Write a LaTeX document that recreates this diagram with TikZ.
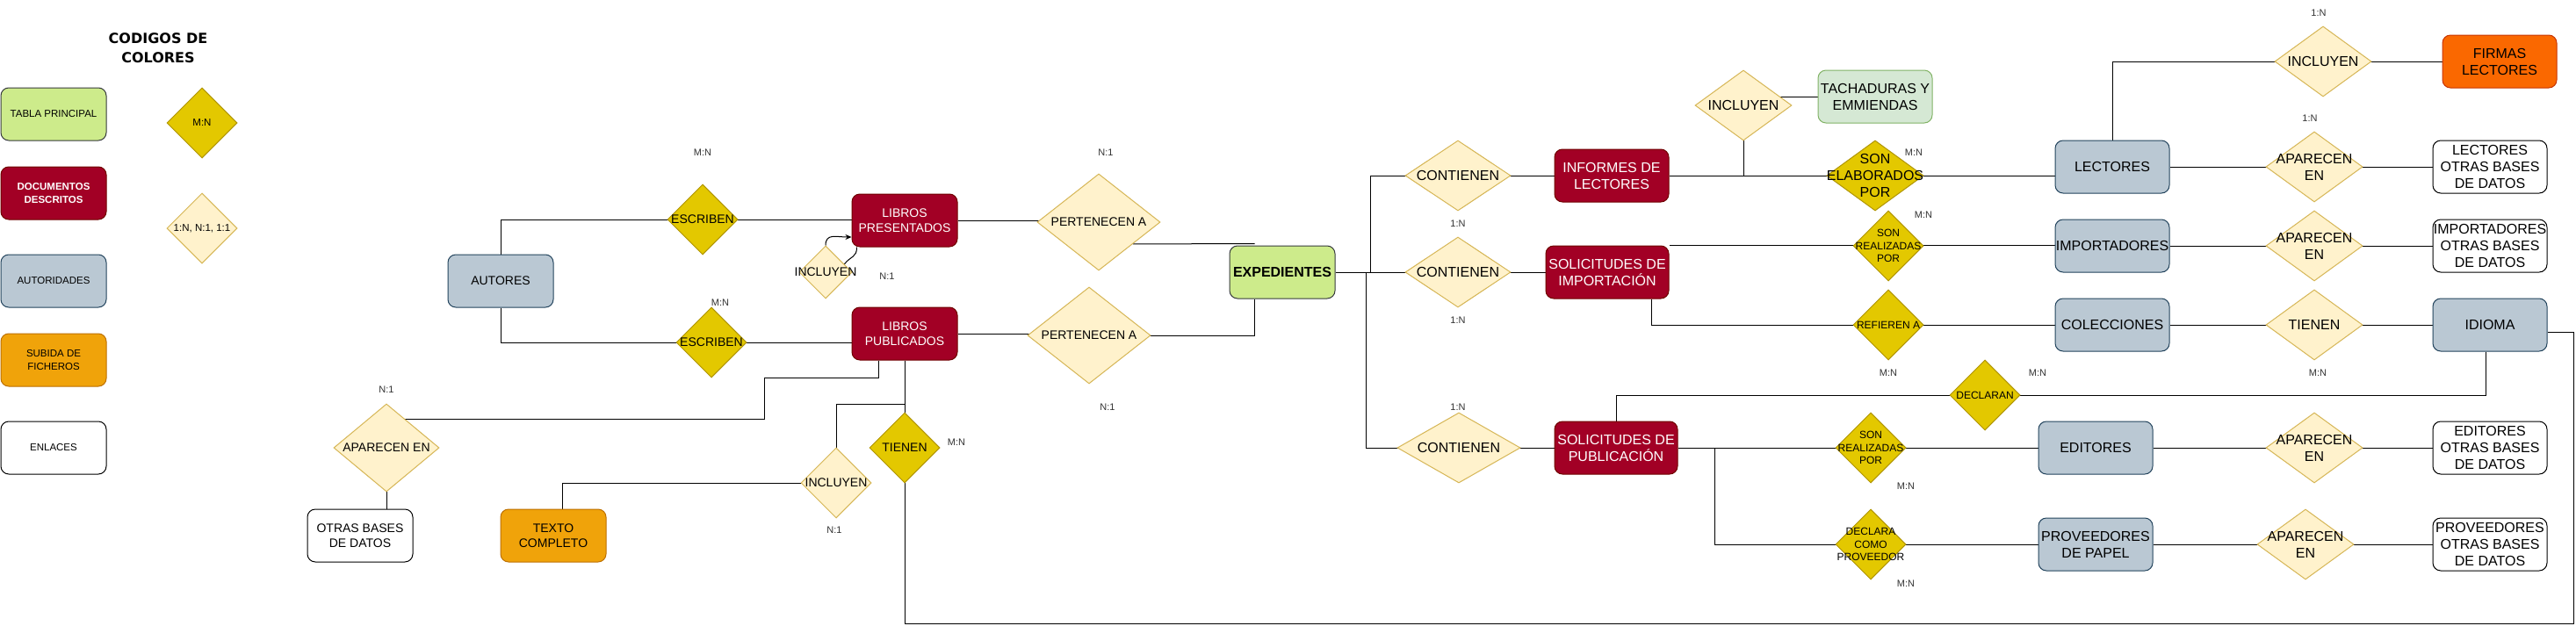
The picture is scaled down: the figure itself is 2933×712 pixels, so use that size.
\documentclass[tikz,border=0pt]{standalone}
\usepackage{fontspec}
\setmainfont{Liberation Sans}
\newfontfamily\titlefam{DejaVu Sans}
\usetikzlibrary{shapes.geometric,arrows.meta,calc,backgrounds}
\definecolor{cPrin}{HTML}{CDEB8B}
\definecolor{cPrinD}{HTML}{36393D}
\definecolor{cDoc}{HTML}{A20025}
\definecolor{cDocD}{HTML}{6F0000}
\definecolor{cAut}{HTML}{BAC8D3}
\definecolor{cAutD}{HTML}{23445D}
\definecolor{cSub}{HTML}{F0A30A}
\definecolor{cSubD}{HTML}{BD7000}
\definecolor{cRel}{HTML}{FFF2CC}
\definecolor{cRelD}{HTML}{D6B656}
\definecolor{cMN}{HTML}{E3C800}
\definecolor{cMND}{HTML}{B09500}
\definecolor{cTach}{HTML}{D5E8D4}
\definecolor{cTachD}{HTML}{82B366}
\definecolor{cFirm}{HTML}{FA6800}
\definecolor{cFirmD}{HTML}{C73500}
\definecolor{cLab}{HTML}{333333}
\newcommand\myfL{\fontsize{16}{19}\selectfont}
\newcommand\myfM{\fontsize{14}{17.5}\selectfont}
\newcommand\myfS{\fontsize{12}{14.5}\selectfont}
\newcommand\myfT{\fontsize{11.5}{14.5}\selectfont}
\newcommand\myfC{\fontsize{11}{13}\selectfont}
\tikzset{
  myent/.style={rectangle, rounded corners=9, draw, line width=1, align=center, inner sep=0, minimum height=60, minimum width=120, text=black},
  myprin/.style={myent, fill=cPrin, draw=cPrinD},
  mydoc/.style={myent, fill=cDoc, draw=cDocD, text=white},
  myaut/.style={myent, fill=cAut, draw=cAutD},
  mysub/.style={myent, fill=cSub, draw=cSubD},
  mylink/.style={myent, fill=white, draw=black},
  mytach/.style={myent, fill=cTach, draw=cTachD},
  myfirm/.style={myent, fill=cFirm, draw=cFirmD},
  mydia/.style={diamond, draw, line width=1, inner sep=0, minimum width=80, minimum height=80},
  myrel/.style={mydia, fill=cRel, draw=cRelD},
  mymn/.style={mydia, fill=cMN, draw=cMND},
  mydl/.style={align=center, inner sep=0, text=black},
  mycard/.style={font=\myfC, text=cLab, inner sep=0},
  myconn/.style={draw=black, line width=1}
}
\begin{document}
\begin{tikzpicture}[x=1pt,y=-1pt]
\useasboundingbox (0,0) rectangle (2933,712);
% legend
\node[font=\titlefam\bfseries\fontsize{16}{22}\selectfont, align=center] (title) at (180,55) {CODIGOS DE\\COLORES};
\node[myprin, font=\myfT] (lg1) at (61,130) {TABLA PRINCIPAL};
\node[mydoc, font=\myfT\bfseries] (lg2) at (61,220) {DOCUMENTOS\\DESCRITOS};
\node[myaut, font=\myfT] (lg3) at (61,320) {AUTORIDADES};
\node[mysub, font=\myfT] (lg4) at (61,410) {SUBIDA DE\\FICHEROS};
\node[mylink, font=\myfT] (lg5) at (61,510) {ENLACES};
\node[mymn, label={[mydl,font=\myfT]center:{M:N}}] (lg6) at (230,140) {};
\node[myrel, label={[mydl,font=\myfT]center:{1:N, N:1, 1:1}}] (lg7) at (230,260) {};
% left part
\node[myaut, font=\myfM] (autores) at (570,320) {AUTORES};
\node[mymn, label={[mydl,font=\myfM]center:ESCRIBEN}] (esc1) at (800,250) {};
\node[mymn, label={[mydl,font=\myfM]center:ESCRIBEN}] (esc2) at (810,390) {};
\node[mydoc, font=\myfM] (libpres) at (1030,251) {LIBROS\\PRESENTADOS};
\node[mydoc, font=\myfM] (libpub) at (1030,380) {LIBROS\\PUBLICADOS};
\node[myrel, minimum width=60, minimum height=60, label={[mydl,font=\myfM]center:INCLUYEN}] (inc1) at (940,310) {};
\node[myrel, minimum width=140, minimum height=110, label={[mydl,font=\myfM]center:PERTENECEN A}] (pert1) at (1251,253) {};
\node[myrel, minimum width=140, minimum height=110, label={[mydl,font=\myfM]center:PERTENECEN A}] (pert2) at (1240,382) {};
\node[myprin, font=\myfL\bfseries] (exped) at (1460,310) {EXPEDIENTES};
\node[myrel, minimum width=120, minimum height=100, label={[mydl,font=\myfM]center:APARECEN EN}] (apar0) at (440,510) {};
\node[mylink, font=\myfM] (obd0) at (410,610) {OTRAS BASES\\DE DATOS};
\node[mysub, font=\myfM] (texto) at (630,610) {TEXTO\\COMPLETO};
\node[myrel, label={[mydl,font=\myfM]center:INCLUYEN}] (inc4) at (952,550) {};
\node[mymn, label={[mydl,font=\myfM]center:TIENEN}] (tienen1) at (1030,510) {};
% right part
\node[myrel, minimum width=120, label={[mydl,font=\myfL]center:CONTIENEN}] (cont1) at (1660,200) {};
\node[myrel, minimum width=120, label={[mydl,font=\myfL]center:CONTIENEN}] (cont2) at (1660,310) {};
\node[myrel, minimum width=140, label={[mydl,font=\myfL]center:CONTIENEN}] (cont3) at (1661,510) {};
\node[mydoc, minimum width=130, font=\myfL] (informes) at (1835,200) {INFORMES DE\\LECTORES};
\node[mydoc, minimum width=140, font=\myfL] (solimp) at (1830,310) {SOLICITUDES DE\\IMPORTACIÓN};
\node[mydoc, minimum width=140, font=\myfL] (solpub) at (1840,510) {SOLICITUDES DE\\PUBLICACIÓN};
\node[myrel, minimum width=110, label={[mydl,font=\myfL]center:INCLUYEN}] (inc2) at (1985,120) {};
\node[mytach, minimum width=130, font=\myfL] (tach) at (2135,110) {TACHADURAS Y\\EMMIENDAS};
\node[mymn, minimum width=110, label={[mydl,font=\myfL]center:{SON\\ELABORADOS\\POR}}] (sonelab) at (2135,200) {};
\node[mymn, label={[mydl,font=\myfS]center:{SON\\REALIZADAS\\POR}}] (sonreal1) at (2150,280) {};
\node[mymn, label={[mydl,font=\myfS]center:REFIEREN A}] (refieren) at (2150,370) {};
\node[mymn, label={[mydl,font=\myfS]center:DECLARAN}] (declaran) at (2260,450) {};
\node[mymn, label={[mydl,font=\myfS]center:{SON\\REALIZADAS\\POR}}] (sonreal2) at (2130,510) {};
\node[mymn, label={[mydl,font=\myfS]center:{DECLARA\\COMO\\PROVEEDOR}}] (declara) at (2130,620) {};
\node[myaut, minimum width=130, font=\myfL] (lectores) at (2405,190) {LECTORES};
\node[myaut, minimum width=130, font=\myfL] (importadores) at (2405,280) {IMPORTADORES};
\node[myaut, minimum width=130, font=\myfL] (colecciones) at (2405,370) {COLECCIONES};
\node[myaut, minimum width=130, font=\myfL] (editores) at (2386,510) {EDITORES};
\node[myaut, minimum width=130, font=\myfL] (proveedores) at (2386,620) {PROVEEDORES\\DE PAPEL};
\node[myaut, minimum width=130, font=\myfL] (idioma) at (2835,370) {IDIOMA};
\node[myrel, minimum width=110, label={[mydl,font=\myfL]center:INCLUYEN}] (inc3) at (2645,70) {};
\node[myrel, minimum width=110, label={[mydl,font=\myfL]center:{APARECEN\\EN}}] (apar1) at (2635,190) {};
\node[myrel, minimum width=110, label={[mydl,font=\myfL]center:{APARECEN\\EN}}] (apar2) at (2635,280) {};
\node[myrel, minimum width=110, label={[mydl,font=\myfL]center:TIENEN}] (tienen2) at (2635,370) {};
\node[myrel, minimum width=110, label={[mydl,font=\myfL]center:{APARECEN\\EN}}] (apar3) at (2635,510) {};
\node[myrel, minimum width=110, label={[mydl,font=\myfL]center:{APARECEN\\EN}}] (apar4) at (2625,620) {};
\node[myfirm, minimum width=130, font=\myfL] (firmas) at (2846,70) {FIRMAS\\LECTORES};
\node[mylink, minimum width=130, font=\myfL] (lobd) at (2835,190) {LECTORES\\OTRAS BASES\\DE DATOS};
\node[mylink, minimum width=130, font=\myfL] (iobd) at (2835,280) {IMPORTADORES\\OTRAS BASES\\DE DATOS};
\node[mylink, minimum width=130, font=\myfL] (eobd) at (2835,510) {EDITORES\\OTRAS BASES\\DE DATOS};
\node[mylink, minimum width=130, font=\myfL] (pobd) at (2835,620) {PROVEEDORES\\OTRAS BASES\\DE DATOS};
% cardinality labels
\node[mycard] (k1) at (800,174) {M:N};
\node[mycard] (k2) at (820,345) {M:N};
\node[mycard] (k3) at (1010,315) {N:1};
\node[mycard] (k4) at (1259,174) {N:1};
\node[mycard] (k5) at (1261,464) {N:1};
\node[mycard] (k6) at (440,444) {N:1};
\node[mycard] (k7) at (950,604) {N:1};
\node[mycard] (k8) at (1089,504) {M:N};
\node[mycard] (k9) at (1660,255) {1:N};
\node[mycard] (k10) at (1660,365) {1:N};
\node[mycard] (k11) at (1660,464) {1:N};
\node[mycard] (k12) at (2179,174) {M:N};
\node[mycard] (k13) at (2190,245) {M:N};
\node[mycard] (k14) at (2150,425) {M:N};
\node[mycard] (k15) at (2320,425) {M:N};
\node[mycard] (k16) at (2639,425) {M:N};
\node[mycard] (k17) at (2170,554) {M:N};
\node[mycard] (k18) at (2170,665) {M:N};
\node[mycard] (k19) at (2640,15) {1:N};
\node[mycard] (k20) at (2630,135) {1:N};
% coordinates
\coordinate (busA) at (1560,310);
\coordinate (busB) at (1555,310);
\coordinate (cR) at (2930,710);
\coordinate (cL) at (1030,710);
\coordinate (j1) at (870,430);
\coordinate (j2) at (870,477);
\coordinate (j3) at (1030,460);
% connectors
\begin{scope}[on background layer]
\fill[white] (0,0) rectangle (2933,712);
\draw[myconn] (autores.north) |- (esc1.center);
\draw[myconn] (esc1.center) -- (esc1.center -| libpres.west);
\draw[myconn] (autores.south) |- (esc2.center);
\draw[myconn] (esc2.center) -- (esc2.center -| libpub.west);
\draw[myconn, -{Stealth[length=7pt,width=6pt]}] (inc1.north) .. controls +(0,-14) and +(-18,0) .. ($(libpres.west)+(0,19)$);
\draw[myconn] ($(inc1.east)!0.3!(inc1.north)$) .. controls +(8,-10) and +(0,12) .. ($(libpres.south west)+(6,0)$);
\draw[myconn] (libpres.east) -- (libpres.east -| pert1.center);
\draw[myconn] ($(pert1.east)!0.45!(pert1.south)$) -- ($(exped.north west)+(29,-2)$);
\draw[myconn] (libpub.east) -- (libpub.east -| pert2.center);
\draw[myconn] (pert2.center) -| ($(exped.south west)+(29,0)$);
\draw[myconn] (exped.east) -- (cont2.center);
\draw[myconn] (busA) |- (cont1.center);
\draw[myconn] (busB) |- (cont3.center);
\draw[myconn] (cont1.center) -- (informes.west);
\draw[myconn] (cont2.center) -- (solimp.west);
\draw[myconn] (cont3.center) -- (solpub.west);
\draw[myconn] (informes.east) -- (informes.east -| lectores.west);
\draw[myconn] (inc2.center) -- (inc2.center |- informes.east);
\draw[myconn] (tach.west) -- (tach.west -| inc2.center);
\draw[myconn] (solimp.north east) -- (solimp.north east -| importadores.west);
\draw[myconn] ($(solimp.south east)+(-20,0)$) |- (colecciones.west);
\draw[myconn] (lectores.north) |- (inc3.center);
\draw[myconn] (inc3.center) -- (firmas.west);
\draw[myconn] (lectores.east) -- (lobd.west);
\draw[myconn] (importadores.east) -- (iobd.west);
\draw[myconn] (colecciones.east) -- (idioma.west);
\draw[myconn] (editores.east) -- (eobd.west);
\draw[myconn] (proveedores.east) -- (pobd.west);
\draw[myconn] (solpub.east) -- (editores.west);
\draw[myconn] ($(solpub.east)+(42,0)$) |- (proveedores.west);
\draw[myconn] (declaran.center) -| (solpub.north);
\draw[myconn] ($(idioma.south)+(-5,0)$) |- (declaran.center);
\draw[myconn] ($(idioma.east)+(0,8)$) -| (cR) -- (cL) -- (tienen1.center);
\draw[myconn] (libpub.south) -- (tienen1.center);
\draw[myconn] (inc4.center) |- (j3);
\draw[myconn] ($(texto.north)+(10,0)$) |- (inc4.center);
\draw[myconn] ($(libpub.south west)+(31,0)$) |- (j1) -- (j2) -- (j2 -| apar0.center);
\draw[myconn] (apar0.center) -- (apar0.center |- obd0.north);
\end{scope}
\end{tikzpicture}
\end{document}
